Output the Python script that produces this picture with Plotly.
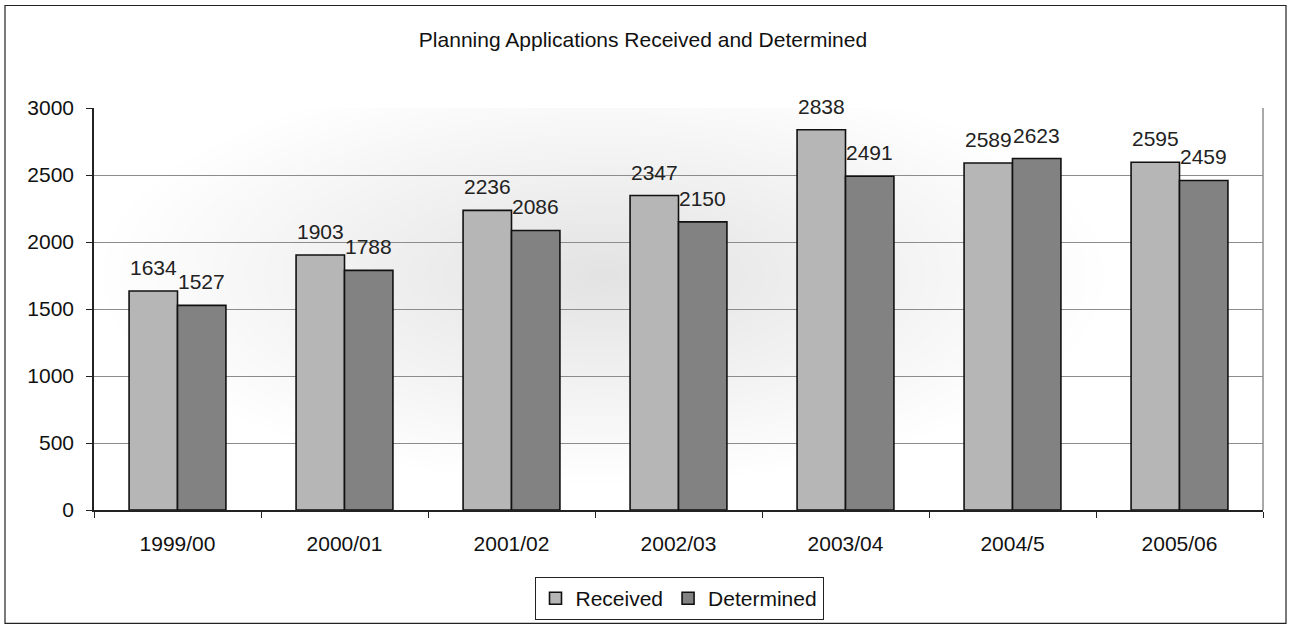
import plotly.graph_objects as go

years = ["1999/00", "2000/01", "2001/02", "2002/03", "2003/04", "2004/5", "2005/06"]
received = [1634, 1903, 2236, 2347, 2838, 2589, 2595]
determined = [1527, 1788, 2086, 2150, 2491, 2623, 2459]
y_ticks = [0, 500, 1000, 1500, 2000, 2500, 3000]

FONT = "Liberation Sans, Arial, sans-serif"
W, H = 1292, 632
L, R, T, B = 94, 29, 108, 120
PLOT_W = W - L - R
PLOT_H = H - T - B
BARGAP = 0.42

fig = go.Figure()
fig.add_trace(go.Bar(
    x=years, y=received, name="Received",
    marker=dict(color="#b6b6b6", line=dict(color="#111111", width=1.6)),
))
fig.add_trace(go.Bar(
    x=years, y=determined, name="Determined",
    marker=dict(color="#828282", line=dict(color="#111111", width=1.6)),
))

# value labels above each bar
bar_px = PLOT_W / len(years) * (1 - BARGAP) / 2
for series, side in ((received, -1), (determined, 1)):
    for yr, v in zip(years, series):
        fig.add_annotation(x=yr, y=v, text=str(v), showarrow=False,
                           xanchor="center", yanchor="bottom",
                           xshift=side * bar_px / 2, yshift=10,
                           font=dict(size=21, color="#222222", family=FONT))

# soft gray haze in the middle of the plot area
N_HAZE = 28
for k in range(N_HAZE):
    f = 1 - k / N_HAZE
    fig.add_shape(type="circle", xref="x", yref="y",
                  x0=2.55 - 3.0 * f, x1=2.55 + 3.0 * f,
                  y0=1750 - 1550 * f, y1=1750 + 1550 * f,
                  line=dict(width=0), fillcolor="rgba(0,0,0,0.0048)", layer="below")

fig.update_layout(
    width=W, height=H,
    margin=dict(l=L, r=R, t=T, b=B),
    paper_bgcolor="white", plot_bgcolor="white",
    barmode="group", bargap=BARGAP, bargroupgap=0,
    font=dict(family=FONT, size=21, color="#111111"),
    title=dict(text="Planning Applications Received and Determined",
               x=643 / W, xanchor="center", y=1 - 40 / H, yanchor="middle",
               font=dict(size=21, color="#111111")),
    legend=dict(orientation="h", x=(679 - L) / PLOT_W, xanchor="center",
                y=(H - B - 601) / PLOT_H, yanchor="middle",
                bordercolor="#222222", borderwidth=1, bgcolor="white",
                font=dict(size=21), traceorder="normal",
                itemwidth=30, tracegroupgap=0),
)

fig.update_yaxes(range=[0, 3000], tickvals=y_ticks, ticks="outside", ticklen=6,
                 tickcolor="#222222", showline=True, linecolor="#222222", linewidth=1.5,
                 showgrid=True, gridcolor="#8c8c8c", gridwidth=1, zeroline=False,
                 tickfont=dict(size=21), ticklabelstandoff=8)
fig.update_xaxes(ticks="outside", tickson="boundaries", ticklen=6, tickcolor="#222222",
                 showline=True, linecolor="#222222", linewidth=1.5,
                 tickfont=dict(size=21), ticklabelstandoff=14, showgrid=False)

# right edge of the plot area
fig.add_shape(type="line", xref="paper", yref="paper", x0=1, x1=1, y0=0, y1=1,
              line=dict(color="#8c8c8c", width=1.5))
# outer chart frame
fig.add_shape(type="rect", xref="paper", yref="paper",
              x0=(5 - L) / PLOT_W, x1=(1286 - L) / PLOT_W,
              y0=(H - B - 626) / PLOT_H, y1=(H - B - 5) / PLOT_H,
              line=dict(color="#222222", width=1.2), fillcolor="rgba(0,0,0,0)")

fig.write_html("out.html")
